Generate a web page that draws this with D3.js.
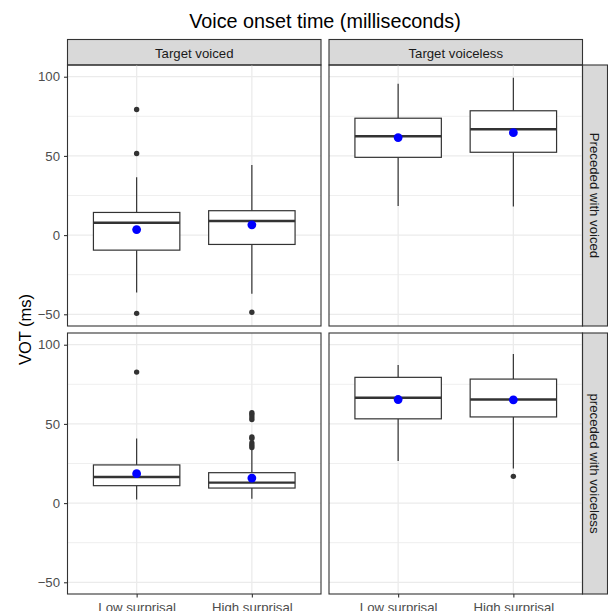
<!DOCTYPE html>
<html>
<head>
<meta charset="utf-8">
<script src="https://cdn.jsdelivr.net/npm/d3@7"></script>
<style>
  body { margin: 0; background: #fff; }
  svg { font-family: "Liberation Sans", Arial, sans-serif; }
</style>
</head>
<body>
<svg width="608" height="611"></svg>
<script>
// facets and categories
var surprisal = ['Low surprisal', 'High surprisal'];
var targets = ['Target voiced', 'Target voiceless'];
var contexts = ['Preceded with voiced', 'preceded with voiceless'];
var yTicks = [-50, 0, 50, 100];
var yMinor = [-25, 25, 75];

// box stats, [row][col][category]
var whiskerLow = [[[-36.3, -37], [18.3, 18.1]], [[2.3, 2.8], [26.6, 21.8]]];
var q1 = [[[-9.5, -5.9], [49.1, 52.3]], [[11, 9.5], [53.2, 54.4]]];
var median = [[[7.8, 8.9], [62.4, 66.8]], [[16.5, 12.9], [66.5, 65.4]]];
var q3 = [[[14.3, 15.4], [73.8, 78.5]], [[24.1, 19.2], [79.4, 78.3]]];
var whiskerHigh = [[[36.5, 44.3], [95.6, 99.4]], [[40.8, 34], [87.2, 94.1]]];
var means = [[[3.5, 6.5], [61.6, 64.7]], [[18.6, 15.8], [65.4, 65.2]]];
var outliers = [
  [[[79.3, 51.5, -49.4], [-48.7]], [[], []]],
  [[[82.7], [57, 55.9, 54.4, 52.8, 41.8, 40.8, 38, 36.5, 35.1]], [[], [16.9]]]
];

var svg = d3.select('svg');
var colX = [67.5, 329], rowY = [65, 333];
var panelW = 253.5, panelH = 261;
var font = '"Liberation Sans", Arial, sans-serif';

var y = d3.scaleLinear().domain([-57.4, 107.4]).range([panelH, 0]);
var x = d3.scalePoint().domain(surprisal).range([0, panelW]).padding(0.6);
var boxW = x.step() * 0.75;

// title
svg.append('text')
  .attr('x', (colX[0] + colX[1] + panelW) / 2).attr('y', 28)
  .attr('text-anchor', 'middle').attr('font-size', 19.8).attr('fill', '#000')
  .text('Voice onset time (milliseconds)');

// y label
svg.append('text')
  .attr('transform', 'translate(31,' + (rowY[0] + (rowY[1] + panelH - rowY[0]) / 2) + ') rotate(-90)')
  .attr('text-anchor', 'middle').attr('font-size', 16.5).attr('fill', '#000')
  .text('VOT (ms)');

// top strips
targets.forEach((t, c) => {
  svg.append('rect')
    .attr('x', colX[c]).attr('y', 39.5).attr('width', panelW).attr('height', 25.5)
    .attr('fill', '#d9d9d9').attr('stroke', '#333').attr('stroke-width', 1.1);
  svg.append('text')
    .attr('x', colX[c] + panelW / 2).attr('y', 58.3)
    .attr('text-anchor', 'middle').attr('font-size', 13.2).attr('fill', '#1a1a1a')
    .text(t);
});

// right strips
contexts.forEach((t, r) => {
  svg.append('rect')
    .attr('x', colX[1] + panelW).attr('y', rowY[r]).attr('width', 25).attr('height', panelH)
    .attr('fill', '#d9d9d9').attr('stroke', '#333').attr('stroke-width', 1.1);
  svg.append('text')
    .attr('transform', 'translate(' + (colX[1] + panelW + 7.8) + ',' + (rowY[r] + panelH / 2) + ') rotate(90)')
    .attr('text-anchor', 'middle').attr('font-size', 13.2).attr('fill', '#1a1a1a')
    .text(t);
});

contexts.forEach((ctx, r) => {
  targets.forEach((tg, c) => {
    var g = svg.append('g').attr('transform', 'translate(' + colX[c] + ',' + rowY[r] + ')');

    // grid
    g.selectAll('.minor').data(yMinor).enter().append('line')
      .attr('x1', 0).attr('x2', panelW)
      .attr('y1', d => y(d)).attr('y2', d => y(d))
      .attr('stroke', '#ebebeb').attr('stroke-width', 0.8);
    g.selectAll('.major').data(yTicks).enter().append('line')
      .attr('x1', 0).attr('x2', panelW)
      .attr('y1', d => y(d)).attr('y2', d => y(d))
      .attr('stroke', '#ebebeb').attr('stroke-width', 1.3);
    g.selectAll('.vmajor').data(surprisal).enter().append('line')
      .attr('y1', 0).attr('y2', panelH)
      .attr('x1', d => x(d)).attr('x2', d => x(d))
      .attr('stroke', '#ebebeb').attr('stroke-width', 1.3);

    surprisal.forEach((s, k) => {
      var cx = x(s);
      // whiskers
      g.append('line').attr('x1', cx).attr('x2', cx)
        .attr('y1', y(q3[r][c][k])).attr('y2', y(whiskerHigh[r][c][k]))
        .attr('stroke', '#333').attr('stroke-width', 1.2);
      g.append('line').attr('x1', cx).attr('x2', cx)
        .attr('y1', y(q1[r][c][k])).attr('y2', y(whiskerLow[r][c][k]))
        .attr('stroke', '#333').attr('stroke-width', 1.2);
      // box
      g.append('rect')
        .attr('x', cx - boxW / 2).attr('width', boxW)
        .attr('y', y(q3[r][c][k])).attr('height', y(q1[r][c][k]) - y(q3[r][c][k]))
        .attr('fill', '#fff').attr('stroke', '#333').attr('stroke-width', 1.2);
      g.append('line')
        .attr('x1', cx - boxW / 2).attr('x2', cx + boxW / 2)
        .attr('y1', y(median[r][c][k])).attr('y2', y(median[r][c][k]))
        .attr('stroke', '#333').attr('stroke-width', 2.4);
      // outliers
      g.selectAll(null).data(outliers[r][c][k]).enter().append('circle')
        .attr('cx', cx).attr('cy', d => y(d)).attr('r', 2.7)
        .attr('fill', '#333');
      // mean
      g.append('circle')
        .attr('cx', cx).attr('cy', y(means[r][c][k])).attr('r', 4.4)
        .attr('fill', '#0000ff');
    });

    // border
    g.append('rect').attr('x', 0).attr('y', 0).attr('width', panelW).attr('height', panelH)
      .attr('fill', 'none').attr('stroke', '#333').attr('stroke-width', 1.1);

    // y axis on left column
    if (c === 0) {
      var ya = g.append('g').call(d3.axisLeft(y).tickValues(yTicks).tickSize(3.5).tickPadding(4)
        .tickFormat(d => d < 0 ? '\u2212' + Math.abs(d) : d));
      ya.select('.domain').remove();
      ya.selectAll('line').attr('stroke', '#333').attr('stroke-width', 1.1);
      ya.selectAll('text').attr('fill', '#4d4d4d').attr('font-size', 13.2)
        .attr('font-family', font);
    }
    // x axis on bottom row
    if (r === 1) {
      var xa = g.append('g').attr('transform', 'translate(0,' + panelH + ')')
        .call(d3.axisBottom(x).tickSize(3.5).tickPadding(5));
      xa.select('.domain').remove();
      xa.selectAll('line').attr('stroke', '#333').attr('stroke-width', 1.1);
      xa.selectAll('text').attr('fill', '#4d4d4d').attr('font-size', 13.2)
        .attr('font-family', font);
    }
  });
});
</script>
</body>
</html>
